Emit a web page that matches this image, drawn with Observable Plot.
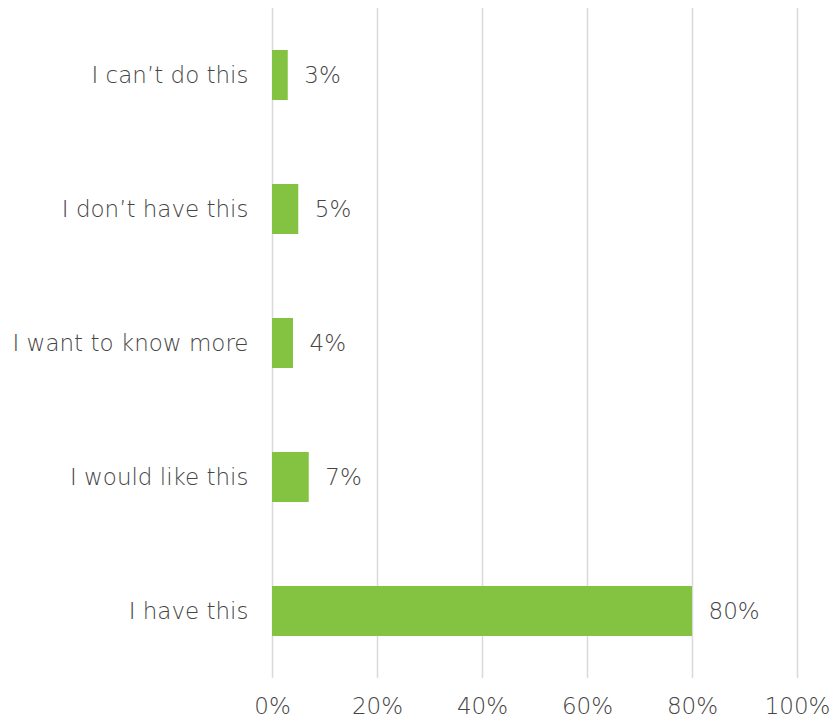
<!DOCTYPE html>
<html>
<head>
<meta charset="utf-8">
<script src="https://cdn.jsdelivr.net/npm/d3@7"></script>
<script src="https://cdn.jsdelivr.net/npm/@observablehq/plot@0.6"></script>
<style>
  html, body { margin: 0; padding: 0; background: #fff; }
  #chart svg { display: block; }
</style>
</head>
<body>
<div id="chart"></div>
<script>
const categories = ["I can’t do this", "I don’t have this", "I want to know more", "I would like this", "I have this"];
const values = [3, 5, 4, 7, 80];
const xTicks = [0, 20, 40, 60, 80, 100];

const data = categories.map((c, i) => ({category: c, value: values[i]}));

const font = "'Century Gothic', 'URW Gothic', 'DejaVu Sans', sans-serif";
const textColor = "#454545";
const fs = 23;

const chart = Plot.plot({
  width: 830,
  height: 721,
  marginLeft: 272,
  marginRight: 33,
  marginTop: 8,
  marginBottom: 43,
  style: {fontFamily: font, fontSize: fs + "px", fontWeight: 200, color: textColor, background: "#fff"},
  x: {domain: [0, 100], ticks: xTicks, tickFormat: d => d + "%", tickSize: 0, tickPadding: 19, label: null},
  y: {domain: categories, paddingInner: 0.63, paddingOuter: 0.315, tickSize: 0, tickPadding: 24, label: null},
  marks: [
    Plot.ruleX(xTicks, {stroke: "#d9d9d9", strokeWidth: 1.5}),
    Plot.barX(data, {y: "category", x: "value", fill: "#84c341"}),
    Plot.text(data, {y: "category", x: "value", text: d => d.value + "%", textAnchor: "start", dx: 16, fill: textColor, fontSize: fs}),
    Plot.axisX({ticks: xTicks, tickFormat: d => d + "%", tickSize: 0, tickPadding: 19, fontSize: fs, label: null, fill: textColor}),
    Plot.axisY({tickSize: 0, tickPadding: 24, fontSize: fs, label: null, fill: textColor})
  ]
});
document.getElementById("chart").appendChild(chart);
</script>
</body>
</html>
